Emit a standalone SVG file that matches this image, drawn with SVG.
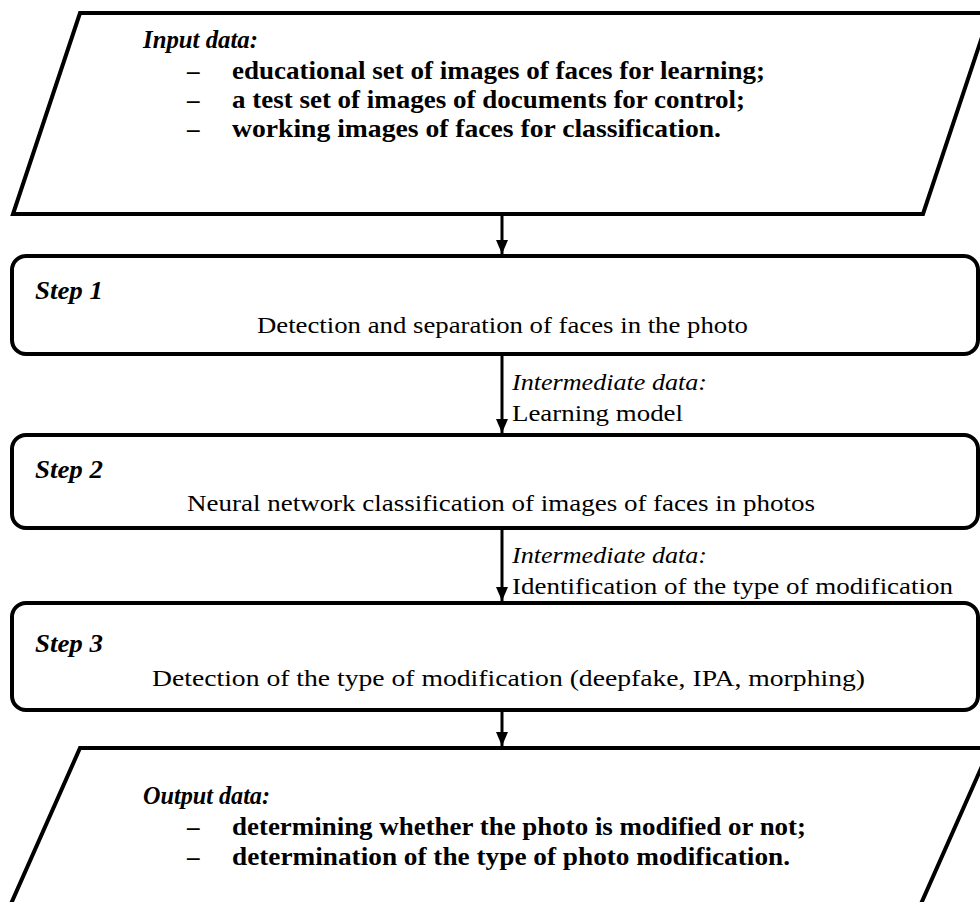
<svg xmlns="http://www.w3.org/2000/svg" width="980" height="902" viewBox="0 0 980 902">
<style>
.shape{fill:#fff;stroke:#000;stroke-width:4;stroke-linejoin:miter}
.box{fill:#fff;stroke:#000;stroke-width:4}
text{font-family:"Liberation Serif",serif;font-size:24px;fill:#000}
.b{font-weight:bold;font-size:25px}
.i{font-style:italic}
.conn{stroke:#000;stroke-width:3;fill:none}
</style>
<defs>
<marker id="arr" markerWidth="14" markerHeight="12" refX="14" refY="6" orient="auto" markerUnits="userSpaceOnUse">
<path d="M0,0 L14,6 L0,12 Z" fill="#000"/>
</marker>
</defs>

<g id="input">
<polygon class="shape" points="80,13 990,13 923,214 13,214"/>
<text class="b i" x="143" y="48" textLength="115" lengthAdjust="spacingAndGlyphs">Input data:</text>
<text class="b" x="187" y="79">–</text>
<text class="b" x="232" y="79" textLength="533" lengthAdjust="spacingAndGlyphs">educational set of images of faces for learning;</text>
<text class="b" x="187" y="108">–</text>
<text class="b" x="232" y="108" textLength="513" lengthAdjust="spacingAndGlyphs">a test set of images of documents for control;</text>
<text class="b" x="187" y="137">–</text>
<text class="b" x="232" y="137" textLength="489" lengthAdjust="spacingAndGlyphs">working images of faces for classification.</text>
</g>

<g id="step1">
<rect class="box" x="12" y="256" width="966" height="98" rx="14"/>
<text class="b i" x="35" y="299" textLength="68" lengthAdjust="spacingAndGlyphs">Step 1</text>
<text x="257" y="333" textLength="491" lengthAdjust="spacingAndGlyphs">Detection and separation of faces in the photo</text>
</g>

<g id="step2">
<rect class="box" x="12" y="435" width="966" height="93" rx="14"/>
<text class="b i" x="35" y="478" textLength="68" lengthAdjust="spacingAndGlyphs">Step 2</text>
<text x="187" y="511" textLength="628" lengthAdjust="spacingAndGlyphs">Neural network classification of images of faces in photos</text>
</g>

<g id="step3">
<rect class="box" x="12" y="603" width="966" height="107" rx="14"/>
<text class="b i" x="35" y="652" textLength="68" lengthAdjust="spacingAndGlyphs">Step 3</text>
<text x="152" y="686" textLength="713" lengthAdjust="spacingAndGlyphs">Detection of the type of modification (deepfake, IPA, morphing)</text>
</g>

<g id="output">
<polygon class="shape" points="80,748 990,748 920,906 10,906"/>
<text class="b i" x="143" y="804" textLength="127" lengthAdjust="spacingAndGlyphs">Output data:</text>
<text class="b" x="187" y="835">–</text>
<text class="b" x="232" y="835" textLength="574" lengthAdjust="spacingAndGlyphs">determining whether the photo is modified or not;</text>
<text class="b" x="187" y="865">–</text>
<text class="b" x="232" y="865" textLength="558" lengthAdjust="spacingAndGlyphs">determination of the type of photo modification.</text>
</g>

<g id="connectors">
<line class="conn" x1="502" y1="216" x2="502" y2="254" marker-end="url(#arr)"/>
<line class="conn" x1="502" y1="356" x2="502" y2="433" marker-end="url(#arr)"/>
<line class="conn" x1="502" y1="530" x2="502" y2="601" marker-end="url(#arr)"/>
<line class="conn" x1="502" y1="712" x2="502" y2="746" marker-end="url(#arr)"/>
<text class="i" x="512" y="390" textLength="195" lengthAdjust="spacingAndGlyphs">Intermediate data:</text>
<text x="512" y="421" textLength="171" lengthAdjust="spacingAndGlyphs">Learning model</text>
<text class="i" x="512" y="563" textLength="195" lengthAdjust="spacingAndGlyphs">Intermediate data:</text>
<text x="512" y="594" textLength="441" lengthAdjust="spacingAndGlyphs">Identification of the type of modification</text>
</g>
</svg>
